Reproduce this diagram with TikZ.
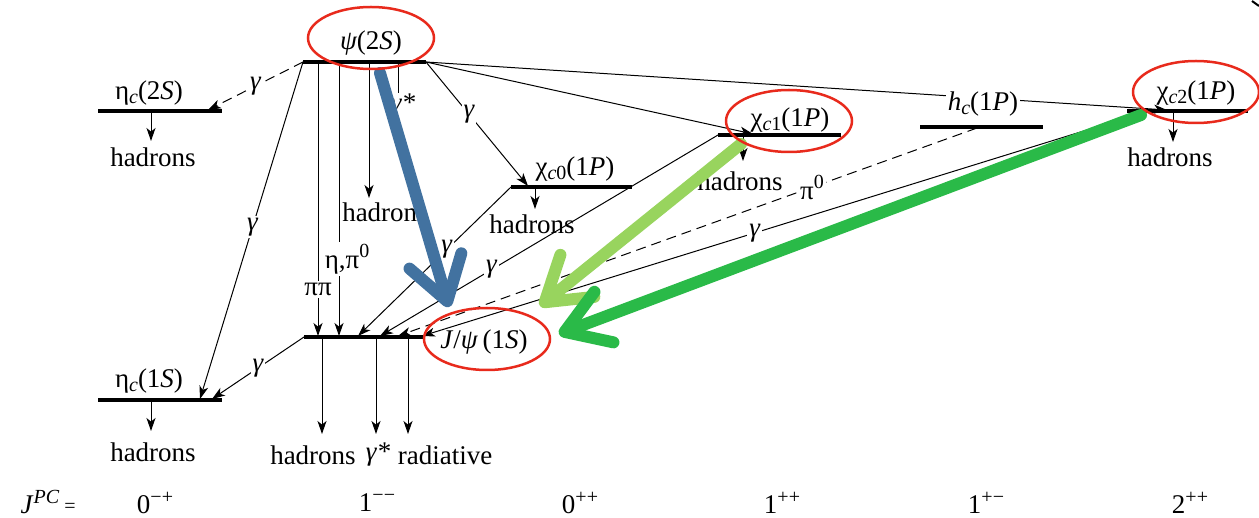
\documentclass[tikz,border=0pt]{standalone}
\usepackage{fontspec}
\setmainfont{Liberation Serif}
\newfontfamily\lserif{Liberation Serif}
\usetikzlibrary{arrows.meta,shapes.geometric}
\newcommand{\lsub}[1]{\raisebox{-0.35ex}{\fontsize{10}{10}\selectfont #1}}
\newcommand{\lsup}[1]{\raisebox{0.85ex}{\fontsize{10}{10}\selectfont #1}}
\definecolor{ellred}{RGB}{232,42,28}
\definecolor{abblue}{RGB}{66,114,160}
\definecolor{ablgreen}{RGB}{152,212,94}
\definecolor{abgreen}{RGB}{42,186,72}
\begin{document}
\begin{tikzpicture}[x=0.5pt,y=-0.5pt,
  font=\lserif\fontsize{13.5}{16}\selectfont,
  lvl/.style={line width=2pt},
  tr/.style={line width=0.5pt,-{Stealth[length=6.5pt,width=4.5pt,inset=1.8pt]}},
  trl/.style={line width=0.5pt},
  dsh/.style={dash pattern=on 5pt off 3pt},
  lab/.style={fill=white,inner sep=1pt},
  txt/.style={inner sep=0pt},
  ell/.style={draw=ellred,line width=1.25pt,ellipse,minimum width=63pt,minimum height=31pt,inner sep=0pt},
  bigarrow/.style={line width=6pt,line cap=round,-{Straight Barb[round,length=21pt,width=27pt]}},
]
\useasboundingbox (0,0) rectangle (1259,518);

% level coordinates
\coordinate (e2L) at (98,111);  \coordinate (e2R) at (222,111);
\coordinate (p2L) at (303,62);  \coordinate (p2R) at (426,62);
\coordinate (c0L) at (511,187); \coordinate (c0R) at (632,187);
\coordinate (c1L) at (718,135); \coordinate (c1R) at (841,135);
\coordinate (hcL) at (920,127); \coordinate (hcR) at (1043,127);
\coordinate (c2L) at (1127,111);\coordinate (c2R) at (1248,111);
\coordinate (jpL) at (304,337); \coordinate (jpR) at (424,337);
\coordinate (e1L) at (98,400);  \coordinate (e1R) at (222,400);

% levels
\draw[lvl] (e2L) -- (e2R);
\draw[lvl] (p2L) -- (p2R);
\draw[lvl] (c0L) -- (c0R);
\draw[lvl] (c1L) -- (c1R);
\draw[lvl] (hcL) -- (hcR);
\draw[lvl] (c2L) -- (c2R);
\draw[lvl] (jpL) -- (jpR);
\draw[lvl] (e1L) -- (e1R);

% transition end points
\coordinate (e2in) at (208,110);
\coordinate (e1inA) at (200,399);
\coordinate (e1inB) at (212,399);
\coordinate (p2pp) at (318,62);   \coordinate (jppp) at (318,336);
\coordinate (p2eta) at (339,62);  \coordinate (jpeta) at (339,336);
\coordinate (p2had) at (369,62);  \coordinate (p2hadE) at (369,198);
\coordinate (p2gs) at (398,62);   \coordinate (p2gsE) at (398,93);
\coordinate (c0in) at (528,186);
\coordinate (c1in) at (753,134);
\coordinate (c2in) at (1167,110);
\coordinate (hcout) at (977,128);
\coordinate (c2out) at (1145,112);
\coordinate (jpA) at (358,336);
\coordinate (jpB) at (380,336);
\coordinate (jpC) at (398,336);
\coordinate (jpD) at (422,336);

% psi(2S) transitions
\draw[tr,dsh] (p2L) -- (e2in) node[lab,pos=0.5] {\itshape γ};
\draw[tr] (p2L) -- (e1inA) node[lab,pos=0.49] {\itshape γ};
\draw[tr] (p2pp) -- (jppp) node[lab,pos=0.83] {ππ};
\draw[tr] (p2eta) -- (jpeta) node[lab,pos=0.72,xshift=4pt] {η,π\lsup{0}};
\draw[tr] (p2had) -- (p2hadE);
\draw[trl] (p2gs) -- (p2gsE);
\draw[tr] (p2R) -- (c0in) node[lab,pos=0.42] {\itshape γ};
\draw[tr] (p2R) -- (c1in);
\draw[tr] (p2R) -- (c2in);

% transitions into J/psi
\draw[tr] (c0L) -- (jpA) node[lab,pos=0.42] {\itshape γ};
\draw[tr] (c1L) -- (jpB) node[lab,pos=0.67] {\itshape γ};
\draw[tr,dsh] (hcout) -- (jpC) node[lab,pos=0.285] {π\lsup{0}};
\draw[tr] (c2out) -- (jpD) node[lab,pos=0.54] {\itshape γ};
\draw[tr] (jpL) -- (e1inB) node[lab,pos=0.5] {\itshape γ};

% hadron decays
\coordinate (e2d) at (151,111); \coordinate (e2dE) at (151,141);
\coordinate (e1d) at (151,400); \coordinate (e1dE) at (151,431);
\coordinate (c0d) at (535,187); \coordinate (c0dE) at (535,209);
\coordinate (c1d) at (743,135); \coordinate (c1dE) at (743,161);
\coordinate (c2d) at (1173,111);\coordinate (c2dE) at (1173,142);
\coordinate (jd1) at (322,337); \coordinate (jd1E) at (322,434);
\coordinate (jd2) at (376,337); \coordinate (jd2E) at (376,434);
\coordinate (jd3) at (408,337); \coordinate (jd3E) at (408,434);
\draw[tr] (e2d) -- (e2dE);
\draw[tr] (e1d) -- (e1dE);
\draw[tr] (c0d) -- (c0dE);
\draw[tr] (c1d) -- (c1dE);
\draw[tr] (c2d) -- (c2dE);
\draw[tr] (jd1) -- (jd1E);
\draw[tr] (jd2) -- (jd2E);
\draw[tr] (jd3) -- (jd3E);

% level labels
\node[txt] (le2) at (149,93) {η\lsub{\itshape c}(2\textit{S})};
\node[txt] (lp2) at (371,43) {\itshape ψ\upshape(2\textit{S})};
\node[txt] (lc0) at (575,169) {χ\lsub{\itshape c\upshape 0}(1\textit{P})};
\node[txt] (lc1) at (790,120) {χ\lsub{\itshape c\upshape 1}(1\textit{P})};
\node[lab] (lhc) at (983,104) {\textit{h}\lsub{\itshape c}(1\textit{P})};
\node[txt] (lc2) at (1196,93) {χ\lsub{\itshape c\upshape 2}(1\textit{P})};
\node[txt] (ljp) at (484,342) {\textit{J}/\textit{ψ}\,(1\textit{S})};
\node[txt] (le1) at (149,381) {η\lsub{\itshape c}(1\textit{S})};

% decay product labels
\node[txt] (h1) at (153,157) {hadrons};
\node[txt] (h2) at (385,212) {hadrons};
\node[txt] (h3) at (532,224) {hadrons};
\node[txt] (h4) at (740,181) {hadrons};
\node[txt] (h5) at (1170,157) {hadrons};
\node[txt] (h6) at (153,452) {hadrons};
\node[txt] (h7) at (313,455) {hadrons};
\node[txt] (gs1) at (378,455) {\itshape γ*};
\node[txt] (rad) at (445,455) {radiative};
\node[txt] (gs2) at (403,106) {\itshape γ*};

% J^PC row
\node[txt] (jpc) at (40,502) {\textit{J}\lsup{\itshape PC}};
\node[txt,font=\lserif\fontsize{10}{10}\selectfont] (jpceq) at (70,508) {=};
\node[txt] (q1) at (155,503) {0\lsup{−+}};
\node[txt] (q2) at (377,503) {1\lsup{−−}};
\node[txt] (q3) at (580,503) {0\lsup{++}};
\node[txt] (q4) at (782,503) {1\lsup{++}};
\node[txt] (q5) at (986,503) {1\lsup{+−}};
\node[txt] (q6) at (1190,503) {2\lsup{++}};

% highlight arrows
\coordinate (bS) at (380,73);  \coordinate (bT) at (449,307);
\coordinate (lgS) at (741,144); \coordinate (lgT) at (540,306);
\coordinate (gS) at (1141,115); \coordinate (gT) at (559,334);
\draw[bigarrow,abblue] (bS) -- (bT);
\draw[bigarrow,ablgreen] (lgS) -- (lgT);
\draw[bigarrow,abgreen] (gS) -- (gT);

% red ellipses
\node[ell] (ep2) at (371,38) {};
\node[ell] (ec1) at (789,121) {};
\node[ell] (ec2) at (1196,92) {};
\node[ell] (ejp) at (487,339) {};

% corner mark
\coordinate (mk1) at (1252,1); \coordinate (mk2) at (1259,6);
\draw[line width=1pt] (mk1) -- (mk2);
\end{tikzpicture}
\end{document}
